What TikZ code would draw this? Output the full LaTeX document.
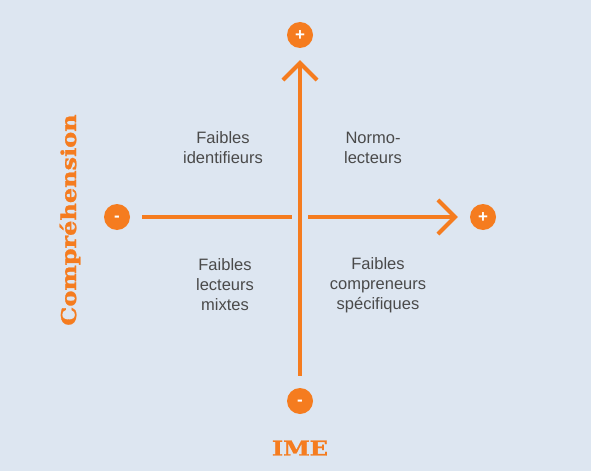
\documentclass[tikz,border=0pt]{standalone}
\usepackage{fontspec}
\setmainfont{Liberation Sans}
\newfontfamily\slabfont[BoldFeatures={FakeBold=1.2}]{DejaVu Serif}
\usetikzlibrary{arrows.meta}
\definecolor{bgc}{HTML}{DDE6F1}
\definecolor{orng}{HTML}{F57C1F}
\definecolor{txtc}{HTML}{4A4A4A}
\tikzset{
  pole/.style={circle, fill=orng, minimum size=26pt, inner sep=0pt, text=white, font=\bfseries\fontsize{17}{17}\selectfont},
  axisline/.style={draw=orng, line width=4pt, -{Straight Barb[length=17pt,width=34pt,line width=4pt]}},
  cutline/.style={draw=bgc, line width=16pt},
  quad/.style={align=center, text=txtc, font=\fontsize{16.5}{20}\selectfont},
  axlabel/.style={text=orng, font=\slabfont\bfseries\fontsize{20.5}{20}\selectfont}
}
\begin{document}
\begin{tikzpicture}[x=1pt,y=-1pt]
\useasboundingbox (0,0) rectangle (593,473);
\fill[white] (0,0) rectangle (593,473);
\fill[bgc] (0,0) rectangle (591,471);

\node[pole] (tp) at (300,35) {\raisebox{-5.8pt}[0pt][0pt]{+}};
\node[pole] (bm) at (300,401) {\raisebox{-4.7pt}[0pt][0pt]{-}};
\node[pole] (lm) at (117,217) {\raisebox{-4.7pt}[0pt][0pt]{-}};
\node[pole] (rp) at (483,217) {\raisebox{-5.8pt}[0pt][0pt]{+}};

\draw[axisline, shorten <=12pt, shorten >=12pt] (lm) -- (rp);
\draw[cutline, shorten <=12pt, shorten >=40pt] (bm) -- (tp);
\draw[axisline, shorten <=12pt, shorten >=12pt] (bm) -- (tp);

\node[quad] (q1) at (223,148) {Faibles\\identifieurs};
\node[quad] (q2) at (373,148) {Normo-\\lecteurs};
\node[quad] (q3) at (225,285) {Faibles\\lecteurs\\mixtes};
\node[quad] (q4) at (378,285) {Faibles\\compreneurs\\spécifiques};

\node[axlabel, xscale=1.17] (ime) at (300,448) {IME};
\node[axlabel, rotate=90, xscale=1.17] (comp) at (70,220) {Compréhension};
\end{tikzpicture}
\end{document}
